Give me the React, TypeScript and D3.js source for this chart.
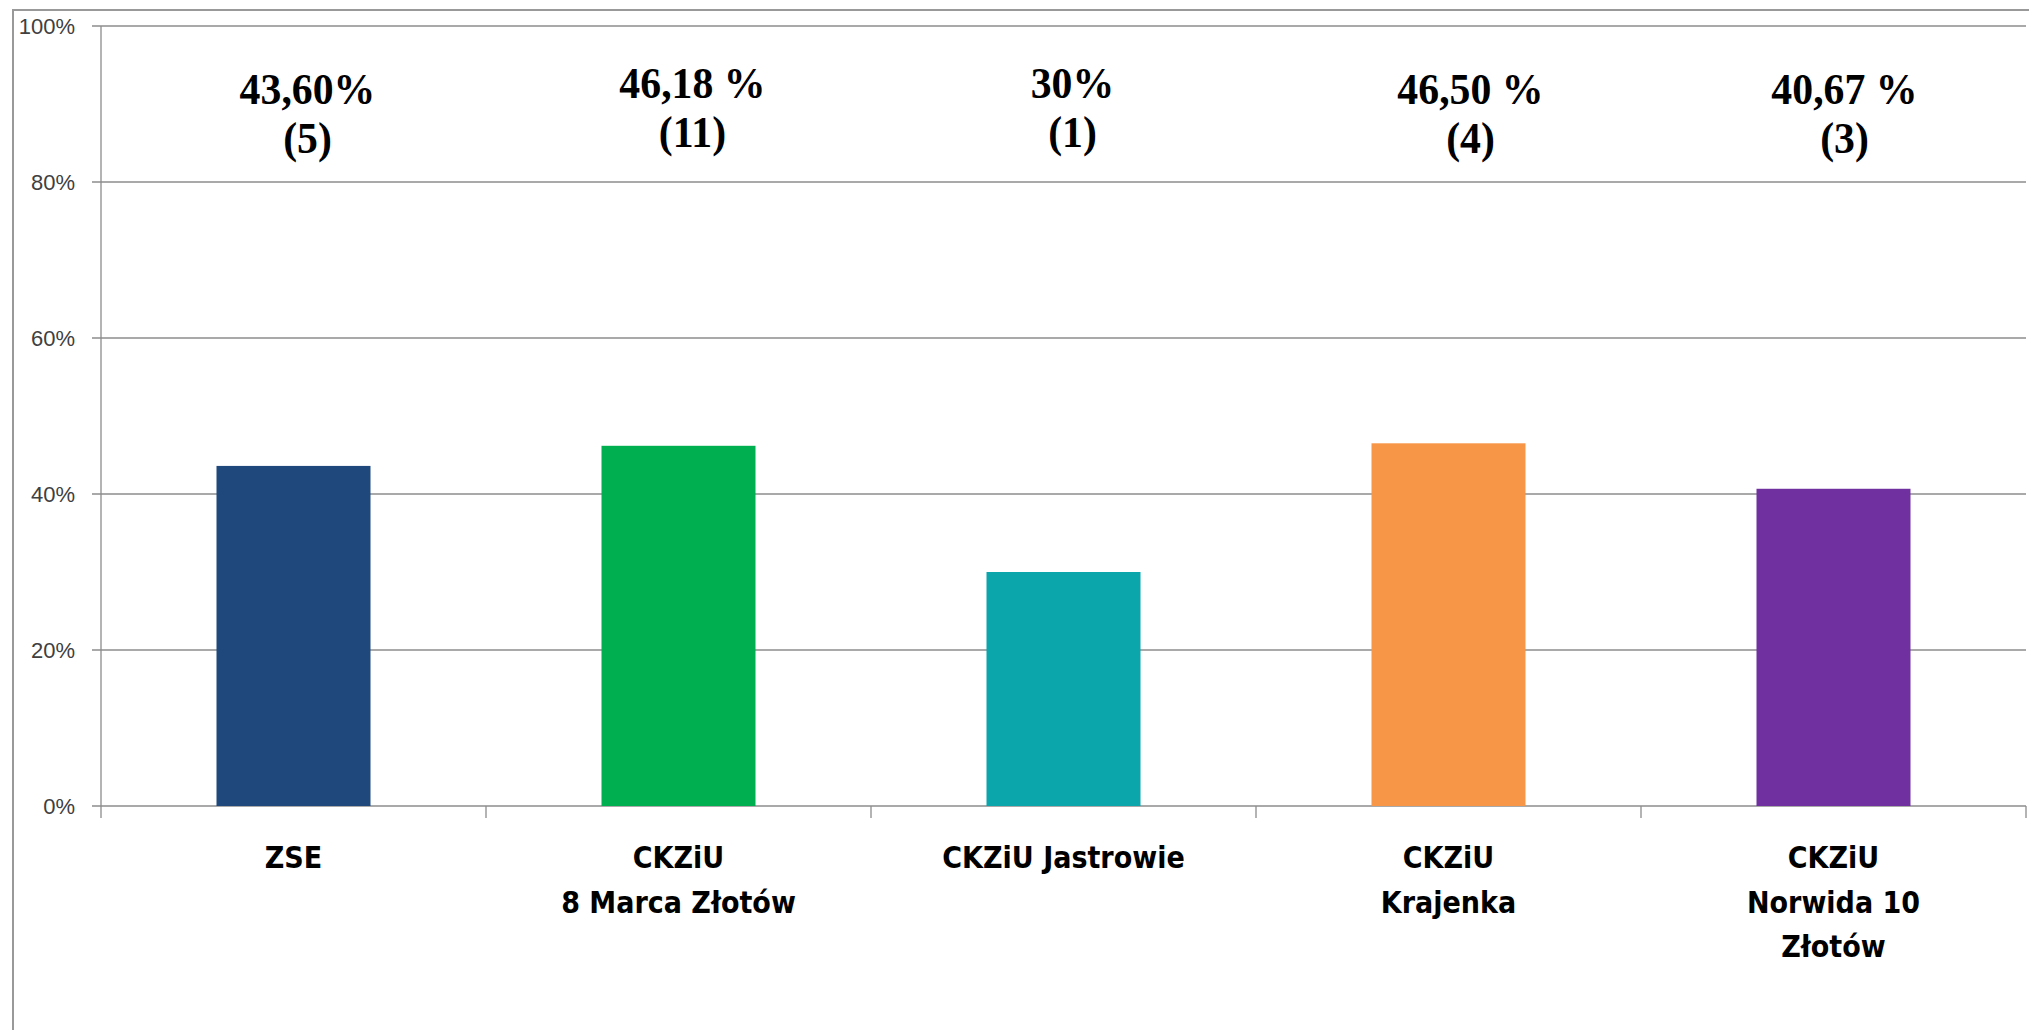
import React from "react";
import * as d3 from "d3";

const categories = ["ZSE", "CKZiU\n8 Marca Złotów", "CKZiU Jastrowie", "CKZiU\nKrajenka", "CKZiU\nNorwida 10\nZłotów"];
const values = [43.6, 46.18, 30, 46.5, 40.67];
const valueLabels = ["43,60%", "46,18 %", "30%", "46,50 %", "40,67 %"];
const counts = ["(5)", "(11)", "(1)", "(4)", "(3)"];
const colors = ["#1F497D", "#00B050", "#0AA6AB", "#F79646", "#7030A0"];
const yTicks = [0, 20, 40, 60, 80, 100];

// text boxes in the original sit a bit off the bar centres
const labelNudge = [
  { dx: 14, dy: 0 },
  { dx: 14, dy: -6 },
  { dx: 9, dy: -6 },
  { dx: 22, dy: 0 },
  { dx: 11, dy: 0 },
];

const width = 2029;
const height = 1030;
const margin = { top: 26, right: 3, bottom: 224, left: 101 };
const innerW = width - margin.left - margin.right;
const innerH = height - margin.top - margin.bottom;

const x = d3.scaleBand<number>()
  .domain(d3.range(categories.length))
  .range([0, innerW])
  .paddingInner(0.6)
  .paddingOuter(0.3);
const step = x.step();
const y = d3.scaleLinear().domain([0, 100]).range([innerH, 0]);

const grid = "#8c8c8c";
const narrow = "'DejaVu Sans Condensed', 'Liberation Sans Narrow', sans-serif";

const App = () => {
  return (
    <svg
      width={width}
      height={height}
      style={{ position: "absolute", left: 0, top: 0, background: "#fff" }}
    >
      <rect x={13} y={10} width={width + 20} height={height + 20} fill="#fff" stroke="#999" strokeWidth={2} />
      <g transform={`translate(${margin.left},${margin.top})`}>
        {yTicks.map((t) => (
          <g key={t} transform={`translate(0,${y(t)})`}>
            <line x1={-9} x2={innerW} stroke={grid} strokeWidth={1.3} />
            <text
              x={-26}
              dy="0.35em"
              textAnchor="end"
              fontFamily="'Liberation Sans', Arial, sans-serif"
              fontSize={22}
              fill="#404040"
            >
              {t}%
            </text>
          </g>
        ))}
        <line x1={0} x2={0} y1={0} y2={innerH} stroke={grid} strokeWidth={1.3} />
        {d3.range(categories.length + 1).map((i) => (
          <line key={i} x1={i * step} x2={i * step} y1={innerH} y2={innerH + 12} stroke={grid} strokeWidth={1.3} />
        ))}
        {values.map((v, i) => (
          <rect key={i} x={x(i)} y={y(v)} width={x.bandwidth()} height={innerH - y(v)} fill={colors[i]} />
        ))}
        {valueLabels.map((lab, i) => {
          const cx = (x(i) ?? 0) + x.bandwidth() / 2 + labelNudge[i].dx;
          return (
            <text
              key={i}
              transform={`translate(${cx},${labelNudge[i].dy}) scale(0.95,1)`}
              textAnchor="middle"
              fontFamily="'Liberation Serif', 'DejaVu Serif', serif"
              fontWeight="bold"
              fontSize={44}
              fill="#000"
            >
              <tspan x={0} y={78}>{lab}</tspan>
              <tspan x={0} y={127}>{counts[i]}</tspan>
            </text>
          );
        })}
        {categories.map((c, i) => {
          const cx = (x(i) ?? 0) + x.bandwidth() / 2;
          return (
            <text key={i} textAnchor="middle" fontFamily={narrow} fontWeight="bold" fontSize={30} fill="#000">
              {c.split("\n").map((line, j) => (
                <tspan key={j} x={cx} y={innerH + 62 + j * 44.6}>{line}</tspan>
              ))}
            </text>
          );
        })}
      </g>
    </svg>
  );
};

export default App;
